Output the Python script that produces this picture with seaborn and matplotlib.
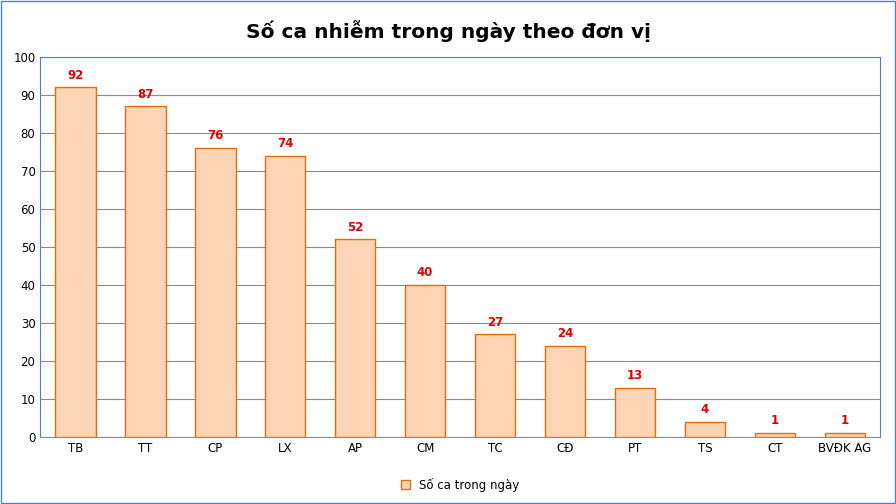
import matplotlib.pyplot as plt
import seaborn as sns
import pandas as pd
from matplotlib.patches import Patch, Rectangle

units = ["TB", "TT", "CP", "LX", "AP", "CM", "TC", "CĐ", "PT", "TS", "CT", "BVĐK AG"]
cases = [92, 87, 76, 74, 52, 40, 27, 24, 13, 4, 1, 1]

df = pd.DataFrame({"unit": units, "cases": cases})

fig = plt.figure(figsize=(8.96, 5.04), dpi=100)
fig.patches.append(Rectangle((0.001, 0.001), 0.998, 0.998, transform=fig.transFigure,
                             fill=False, edgecolor="#4F81BD", linewidth=1))
ax = fig.add_axes([0.045, 0.133, 0.937, 0.754])

sns.barplot(data=df, x="unit", y="cases", color="#FBD5B5", edgecolor="#E46C0A",
            linewidth=1, width=0.58, saturation=1, ax=ax, zorder=3)

for i, v in enumerate(cases):
    ax.text(i, v + 1.5, str(v), ha="center", va="bottom", color="#E00000",
            fontsize=8.5, fontweight="bold")

ax.set_ylim(0, 100)
ax.set_yticks(range(0, 101, 10))
ax.yaxis.grid(True, color="#8C8C8C", linewidth=0.8, zorder=0)
ax.set_axisbelow(True)
ax.set_xlabel("")
ax.set_ylabel("")
ax.tick_params(axis="both", labelsize=8.5, length=0)
for s in ax.spines.values():
    s.set_color("#4F81BD")
ax.spines["bottom"].set_color("#8C8C8C")

fig.suptitle("Số ca nhiễm trong ngày theo đơn vị", y=0.96, fontsize=14.5, fontweight="bold")

ax.legend(handles=[Patch(facecolor="#FBD5B5", edgecolor="#E46C0A", label="Số ca trong ngày")],
          loc="upper center", bbox_to_anchor=(0.5, -0.08), frameon=False, fontsize=8.5,
          handlelength=0.8, handleheight=0.8)

fig.savefig("out.png", dpi=100)
